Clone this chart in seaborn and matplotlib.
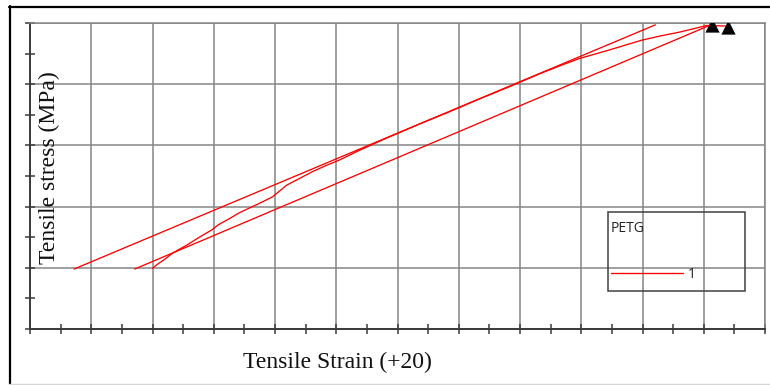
import matplotlib
matplotlib.use("Agg")
import matplotlib.pyplot as plt
from matplotlib.lines import Line2D
from matplotlib.patches import Rectangle
from matplotlib.ticker import MultipleLocator
import numpy as np
import pandas as pd
import seaborn as sns

# Loading curve (strain, stress)
load_strain = [2.00, 2.07, 2.20, 2.33, 2.45, 2.56, 2.70, 2.85, 2.97, 3.07,
               3.25, 3.42, 3.59, 3.78, 3.96, 4.19, 4.40, 4.61, 4.83, 5.05,
               5.38, 5.80, 6.36, 6.85, 7.34, 7.83, 8.32, 8.65, 8.97, 9.46,
               9.99, 10.30, 10.60, 10.85, 11.05, 11.36]
load_stress = [0.99, 1.05, 1.14, 1.24, 1.31, 1.37, 1.46, 1.55, 1.62, 1.70,
               1.80, 1.90, 1.98, 2.07, 2.16, 2.35, 2.46, 2.57, 2.67, 2.76,
               2.92, 3.11, 3.35, 3.55, 3.76, 3.96, 4.17, 4.30, 4.42, 4.56,
               4.72, 4.79, 4.85, 4.91, 4.96, 4.95]

# Upper straight branch
upper_strain = [0.72, 10.21]
upper_stress = [0.98, 4.97]

# Lower straight branch (return path)
lower_strain = [11.07, 1.71]
lower_stress = [4.95, 0.98]

# Break points
break_strain = [11.14, 11.40]
break_stress = [4.97, 4.93]

legend_title = "PETG"
series_label = "1"

sns.set_theme(style="white")
plt.rcParams["font.family"] = ["Liberation Serif", "DejaVu Serif"]

fig = plt.figure(figsize=(7.7, 3.85), dpi=100)
ax = fig.add_axes([30 / 770, 56 / 385, 735 / 770, 306 / 385])

segments = pd.concat([
    pd.DataFrame({"strain": load_strain, "stress": load_stress, "seg": "load"}),
    pd.DataFrame({"strain": upper_strain, "stress": upper_stress, "seg": "upper"}),
    pd.DataFrame({"strain": lower_strain, "stress": lower_stress, "seg": "lower"}),
], ignore_index=True)

for name, grp in segments.groupby("seg", sort=False):
    sns.lineplot(data=grp, x="strain", y="stress", sort=False, estimator=None,
                 color="#ff0000", linewidth=0.95, ax=ax, legend=False)

sns.scatterplot(x=break_strain, y=break_stress, marker="^", s=105,
                color="black", edgecolor="black", linewidth=0, ax=ax,
                zorder=5, legend=False)

ax.set_xlim(0, 12)
ax.set_ylim(0, 5)
ax.xaxis.set_major_locator(MultipleLocator(1))
ax.xaxis.set_minor_locator(MultipleLocator(0.5))
ax.yaxis.set_major_locator(MultipleLocator(1))
ax.yaxis.set_minor_locator(MultipleLocator(0.5))
ax.tick_params(which="both", direction="inout", length=7, width=1.1,
               color="#3a3a3a", labelbottom=False, labelleft=False,
               bottom=True, left=True)
ax.grid(True, which="major", color="#858585", linewidth=1.1)
ax.set_axisbelow(True)

for side in ("left", "bottom"):
    ax.spines[side].set_color("#3a3a3a")
    ax.spines[side].set_linewidth(1.4)
for side in ("top", "right"):
    ax.spines[side].set_color("#858585")
    ax.spines[side].set_linewidth(1.1)

ax.set_xlabel("Tensile Strain (+20)", fontsize=17, color="#111111",
              va="center")
ax.xaxis.set_label_coords((337 - 30) / 735, (329 - 362) / 306)
ax.set_ylabel("Tensile stress (MPa)", fontsize=17, color="#111111",
              va="center")
ax.yaxis.set_label_coords((49 - 30) / 735, (329 - 168) / 306)

# Legend box outline
ax.add_patch(Rectangle((578 / 735, 38 / 306), 137 / 735, 79 / 306,
                       transform=ax.transAxes, fill=False,
                       edgecolor="#404040", linewidth=1.1, zorder=4))

legend_font = {"family": ["Open Sans", "DejaVu Sans"], "size": 10}
handles = [Line2D([], [], color="#ff0000", linewidth=0.95, label=series_label)]
leg = ax.legend(handles=handles, title=legend_title, loc="upper left",
                bbox_to_anchor=(581 / 735, 108 / 306),
                borderaxespad=0, borderpad=0, alignment="left",
                handlelength=5.2, handletextpad=0.35, labelspacing=2.2,
                frameon=False, prop=legend_font,
                title_fontproperties=legend_font)
leg.get_title().set_color("#222222")
for t in leg.get_texts():
    t.set_color("#222222")

# Outer frame
fig.add_artist(Line2D([9.5 / 770, 9.5 / 770], [1 - 6 / 385, 1 - 384 / 385],
                      color="black", linewidth=1.6, transform=fig.transFigure))
fig.add_artist(Line2D([9 / 770, 1.0], [1 - 7 / 385, 1 - 7 / 385],
                      color="black", linewidth=1.6, transform=fig.transFigure))
fig.add_artist(Line2D([9 / 770, 1.0], [1 - 384 / 385, 1 - 384 / 385],
                      color="#d5d5d5", linewidth=1.0, transform=fig.transFigure))

fig.savefig("out.png", dpi=100)
